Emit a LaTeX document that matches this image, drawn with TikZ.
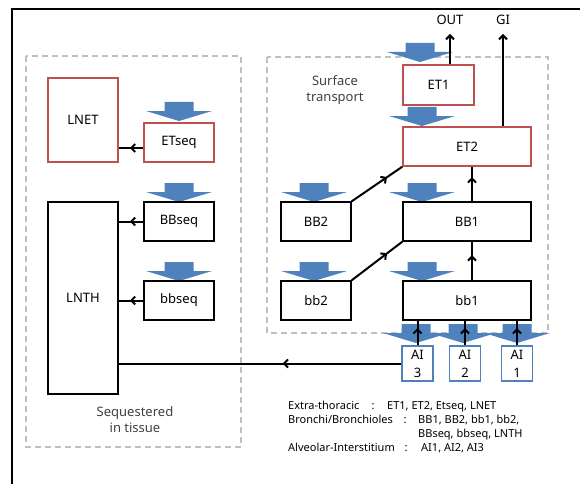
\documentclass[tikz,border=0pt]{standalone}
\usepackage{fontspec}
\setmainfont{Noto Sans}
\usepackage{xcolor}
\usetikzlibrary{arrows.meta, decorations.markings, positioning}

\definecolor{boxred}{RGB}{192,80,77}
\definecolor{boxblue}{RGB}{79,129,189}
\definecolor{fatblue}{RGB}{79,129,189}
\definecolor{dashgray}{RGB}{191,191,191}
\definecolor{labelgray}{RGB}{64,64,64}

\begin{document}
\begin{tikzpicture}[
    x=1pt, y=-1pt,
    every node/.style={font=\fontsize{13}{16}\selectfont, inner sep=0pt},
    box/.style={draw, line width=1.5pt, rectangle, fill=white, minimum width=70pt, minimum height=39pt},
    etbox/.style={box, draw=boxred},
    bbbox/.style={box, draw=black},
    widebox/.style={minimum width=128pt},
    aibox/.style={box, draw=boxblue, align=center, minimum width=31pt, minimum height=35pt, font=\fontsize{13}{18}\selectfont},
    region/.style={draw=dashgray, dash pattern=on 6pt off 4pt, line width=1.5pt},
    regionlabel/.style={text=labelgray, align=center},
    legend/.style={anchor=base west, font=\fontsize{11}{12}\selectfont},
    colon/.style={anchor=base, font=\fontsize{11}{12}\selectfont},
    flow/.style={line width=2pt, -{Straight Barb[length=4pt,width=8pt]}},
    midflow/.style={line width=2pt, postaction={decorate},
        decoration={markings, mark=at position #1 with {\arrow{Straight Barb[length=4pt,width=8pt]}}}},
    fatdown/.pic={\fill[fatblue] (-14.5,0) -- (14.5,0) -- (14.5,9) -- (33,9) -- (0,19) -- (-33,9) -- (-14.5,9) -- cycle;}
]
\useasboundingbox (0,0) rectangle (580,484);

% frame
\draw[line width=2.5pt] (580,9) -- (12,9) -- (12,484);

% regions
\draw[region] (26,56) rectangle (241,447);
\draw[region] (267,57) rectangle (548,333);
\node[regionlabel] (surface) at (335,90) {Surface\\transport};
\node[regionlabel] (sequestered) at (135,420) {Sequestered\\in tissue};

% deposition arrows
\pic at (179,102) {fatdown};
\pic at (179,183) {fatdown};
\pic at (179,262) {fatdown};
\pic at (420,43) {fatdown};
\pic at (422,107) {fatdown};
\pic at (314,183) {fatdown};
\pic at (422,183) {fatdown};
\pic at (314,262) {fatdown};
\pic at (422,262) {fatdown};
\pic at (416,324) {fatdown};
\pic at (463,324) {fatdown};
\pic at (517,324) {fatdown};

% sequestered compartments
\node[etbox, minimum height=84pt] (LNET) at (83,120) {LNET};
\node[etbox] (ETseq) at (179,142.5) {ETseq};
\node[bbbox] (BBseq) at (179,221.5) {BBseq};
\node[bbbox] (bbseq) at (179,300.5) {bbseq};
\node[bbbox, minimum height=192pt] (LNTH) at (83,298) {LNTH};

% surface compartments
\node[etbox, minimum width=71pt, minimum height=40pt] (ET1) at (438.5,85) {ET1};
\node[etbox, widebox] (ET2) at (467,146.5) {ET2};
\node[bbbox] (BB2) at (316,221.5) {BB2};
\node[bbbox, widebox] (BB1) at (467,221.5) {BB1};
\node[bbbox] (bb2) at (316,300.5) {bb2};
\node[bbbox, widebox] (bb1) at (467,300.5) {bb1};

% alveolar-interstitial
\node[aibox] (AI3) at (417.5,363.5) {AI\\3};
\node[aibox] (AI2) at (465,363.5) {AI\\2};
\node[aibox] (AI1) at (517,363.5) {AI\\1};

% outputs
\node (OUT) at (450,20) {OUT};
\node (GI) at (503,20) {GI};

% clearance
\draw[flow, shorten >=9pt] (ET1.north -| OUT) -- (OUT.south);
\draw[flow, shorten >=9pt] (ET2.north -| GI) -- (GI.south);
\draw[midflow=0.7] (BB2.north east) -- (ET2.south west);
\draw[midflow=0.7] (bb2.north east) -- (BB1.south west);
\draw[midflow=0.7] ([xshift=5pt]BB1.north) -- ([xshift=5pt]ET2.south);
\draw[midflow=0.65] ([xshift=5pt]bb1.north) -- ([xshift=5pt]BB1.south);
\draw[midflow=0.7] (AI3.north) -- (AI3.north |- bb1.south);
\draw[midflow=0.7] (AI2.north) -- (AI2.north |- bb1.south);
\draw[midflow=0.7] (AI1.north) -- (AI1.north |- bb1.south);
\draw[midflow=0.42] (AI3.west) -- (AI3.west -| LNTH.east);
\draw[midflow=0.55] ([yshift=-5.5pt]ETseq.west) -- ([yshift=-5.5pt]ETseq.west -| LNET.east);
\draw[midflow=0.55] (BBseq.west) -- (BBseq.west -| LNTH.east);
\draw[midflow=0.55] (bbseq.west) -- (bbseq.west -| LNTH.east);

% legend
\node[legend] (lgET) at (288,409) {Extra-thoracic};
\node[colon] at (373,409) {:};
\node[legend] (lgETv) at (387,409) {ET1, ET2, Etseq, LNET};
\node[legend] (lgBB) at (288,423) {Bronchi/Bronchioles};
\node[colon] at (405,423) {:};
\node[legend] (lgBBv) at (418,423) {BB1, BB2, bb1, bb2,};
\node[legend] (lgBBw) at (418,437) {BBseq, bbseq, LNTH};
\node[legend] (lgAI) at (288,451) {Alveolar-Interstitium};
\node[colon] at (406,451) {:};
\node[legend] (lgAIv) at (421,451) {AI1, AI2, AI3};

\end{tikzpicture}
\end{document}
